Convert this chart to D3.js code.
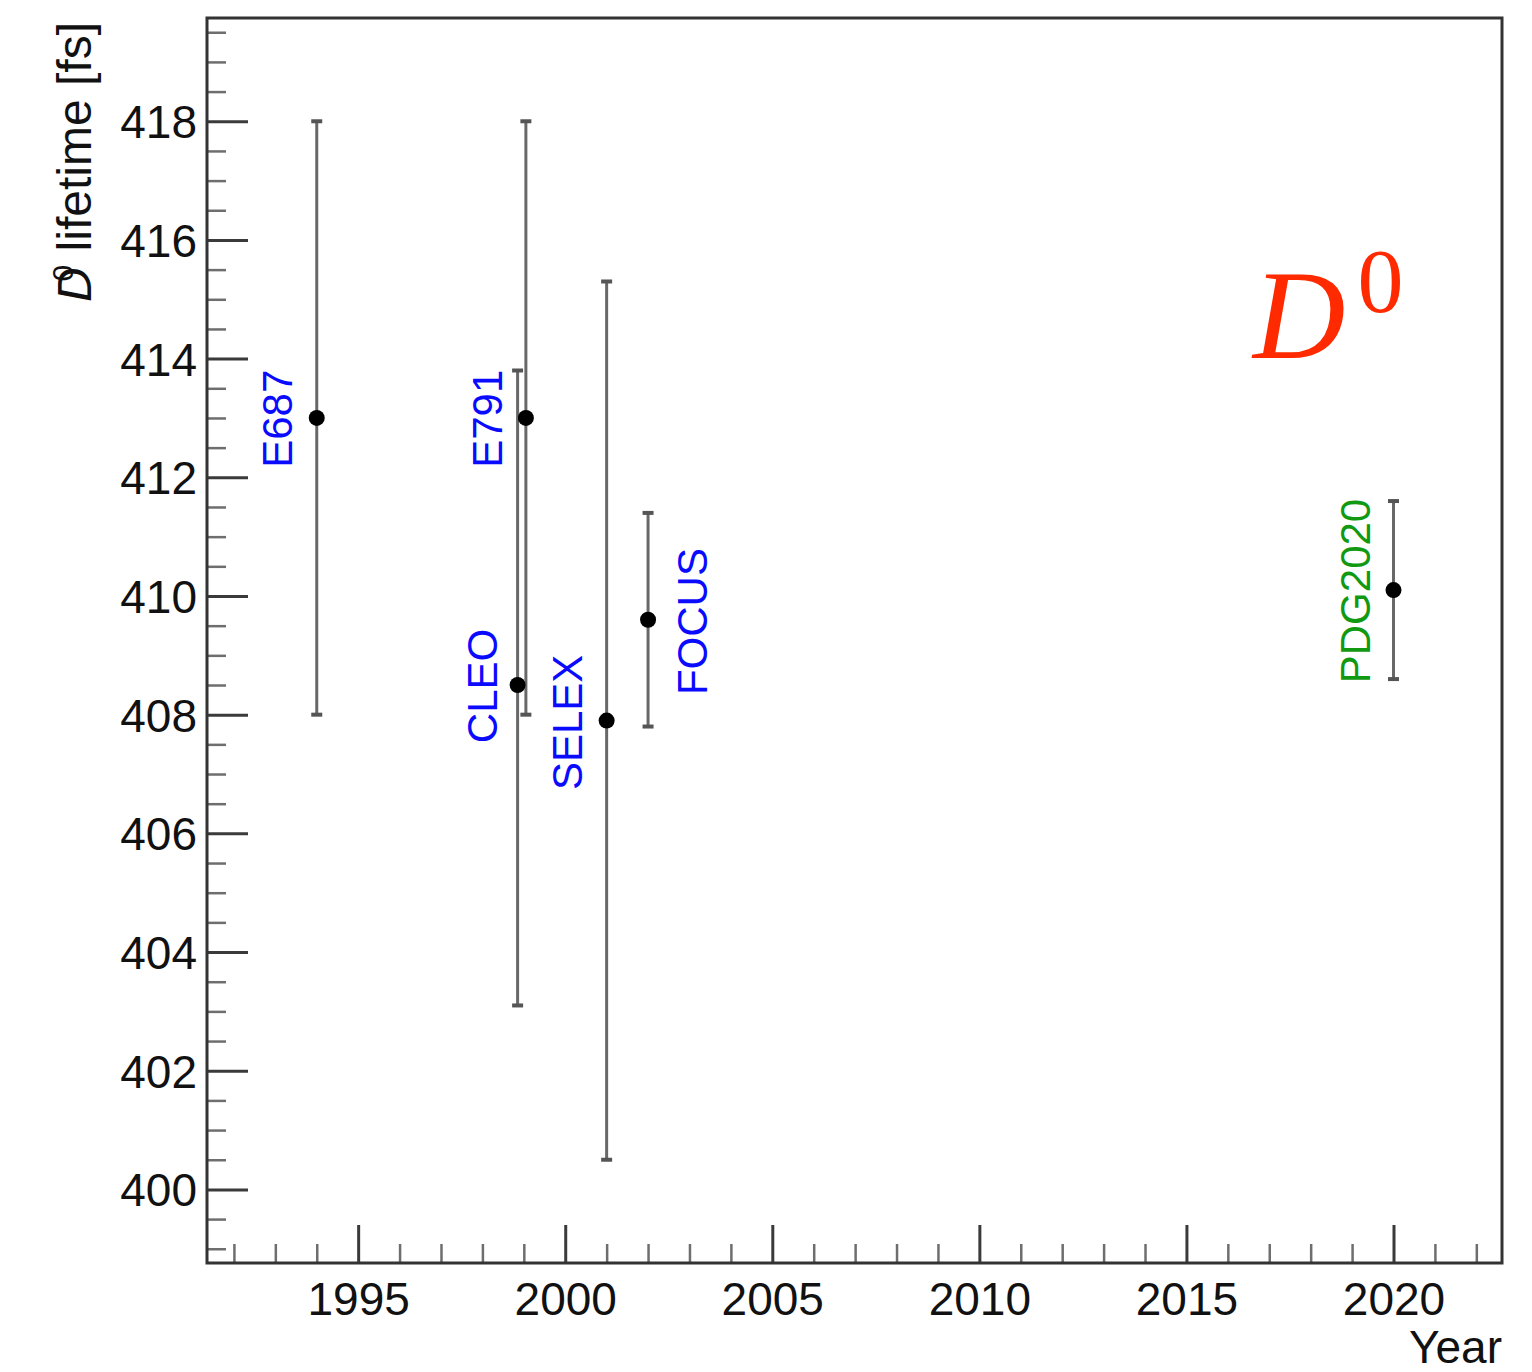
<!DOCTYPE html>
<html>
<head>
<meta charset="utf-8">
<script src="https://cdn.jsdelivr.net/npm/d3@7"></script>
<style>
  body { margin: 0; background: #fff; }
  svg { display: block; }
</style>
</head>
<body>
<svg></svg>
<script>
// measurements, D0 lifetime [fs]
let experiments = ['E687', 'CLEO', 'E791', 'SELEX', 'FOCUS', 'PDG2020']
let years       = [1994, 1998.85, 1999.05, 2001, 2002, 2020]
let lifetimes   = [413, 408.5, 413, 407.9, 409.6, 410.1]
let errUp       = [5, 5.3, 5, 7.4, 1.8, 1.5]
let errDown     = [5, 5.4, 5, 7.4, 1.8, 1.5]
// where each name sits, in data units (year, lifetime)
let labelYears  = [1993.4, 1998.35, 1998.47, 2000.4, 2003.42, 2019.43]
let labelValues = [412.16, 407.52, 412.16, 406.73, 408.33, 408.53]
let labelColors = ['#0a0aff', '#0a0aff', '#0a0aff', '#0a0aff', '#0a0aff', '#119911']

let yearTicks = [1995, 2000, 2005, 2010, 2015, 2020]
let lifeTicks = [400, 402, 404, 406, 408, 410, 412, 414, 416, 418]

let width = 1532
let height = 1372
let margin = {left: 207, top: 18, right: 30, bottom: 109}
let font = "'Liberation Sans', Arial, Helvetica, sans-serif"

let svg = d3.select('svg')
    .attr('width', width)
    .attr('height', height)

let xScale = d3.scaleLinear()
    .domain([1991.35, 2022.62])
    .range([margin.left, width - margin.right])

let yScale = d3.scaleLinear()
    .domain([398.76, 419.74])
    .range([height - margin.bottom, margin.top])

let minorYears = d3.range(1992, 2023, 1).filter(d => d % 5 !== 0)
let minorLife = d3.range(399, 419.75, 0.5).filter(d => d % 2 !== 0)

let data = experiments.map((name, i) => ({
    name: name,
    year: years[i],
    value: lifetimes[i],
    up: errUp[i],
    down: errDown[i],
    lx: labelYears[i],
    ly: labelValues[i],
    color: labelColors[i]
}))

let drawAxes = () => {
    let plotH = yScale.range()[0] - yScale.range()[1]

    // minor ticks
    svg.append('g')
       .attr('transform', 'translate(0,' + yScale.range()[0] + ')')
       .call(d3.axisBottom(xScale).tickValues(minorYears).tickSize(-19).tickFormat(''))
       .call(g => g.select('.domain').remove())
       .call(g => g.selectAll('line').attr('stroke', '#6e6e6e').attr('stroke-width', 2.5))

    svg.append('g')
       .attr('transform', 'translate(' + xScale.range()[0] + ',0)')
       .call(d3.axisLeft(yScale).tickValues(minorLife).tickSize(-19).tickFormat(''))
       .call(g => g.select('.domain').remove())
       .call(g => g.selectAll('line').attr('stroke', '#6e6e6e').attr('stroke-width', 2.5))

    // major ticks
    svg.append('g')
       .attr('id', 'x-axis')
       .attr('transform', 'translate(0,' + yScale.range()[0] + ')')
       .call(d3.axisBottom(xScale).tickValues(yearTicks).tickSize(-38).tickPadding(19).tickFormat(d3.format('d')))
       .call(g => g.select('.domain').remove())
       .call(g => g.selectAll('line').attr('stroke', '#3a3a3a').attr('stroke-width', 3))
       .call(g => g.selectAll('text').attr('font-size', 46).attr('font-family', font).attr('fill', '#111'))

    svg.append('g')
       .attr('id', 'y-axis')
       .attr('transform', 'translate(' + xScale.range()[0] + ',0)')
       .call(d3.axisLeft(yScale).tickValues(lifeTicks).tickSize(-41).tickPadding(10).tickFormat(d3.format('d')))
       .call(g => g.select('.domain').remove())
       .call(g => g.selectAll('line').attr('stroke', '#3a3a3a').attr('stroke-width', 3))
       .call(g => g.selectAll('text').attr('font-size', 46).attr('font-family', font).attr('fill', '#111').attr('dy', '0.36em'))

    // frame
    svg.append('rect')
       .attr('x', xScale.range()[0])
       .attr('y', yScale.range()[1])
       .attr('width', xScale.range()[1] - xScale.range()[0])
       .attr('height', plotH)
       .attr('fill', 'none')
       .attr('stroke', '#333')
       .attr('stroke-width', 3)

    svg.append('text')
       .text('Year')
       .attr('x', xScale.range()[1])
       .attr('y', 1363)
       .attr('text-anchor', 'end')
       .attr('font-size', 46)
       .attr('font-family', font)
       .attr('fill', '#111')

    let ytitle = svg.append('text')
       .attr('transform', 'translate(91,22) rotate(-90)')
       .attr('text-anchor', 'end')
       .attr('font-size', 48)
       .attr('font-family', font)
       .attr('fill', '#111')
    ytitle.append('tspan').attr('font-style', 'italic').text('D')
    ytitle.append('tspan').attr('font-size', 30).attr('dx', -14).attr('dy', -18).text('0')
    ytitle.append('tspan').attr('dy', 18).text(' lifetime [fs]')
}

let plot = () => {
    let g = svg.append('g')

    g.selectAll('line.bar')
     .data(data)
     .enter()
     .append('line')
     .attr('class', 'bar')
     .attr('x1', d => xScale(d.year))
     .attr('x2', d => xScale(d.year))
     .attr('y1', d => yScale(d.value + d.up))
     .attr('y2', d => yScale(d.value - d.down))
     .attr('stroke', '#686868')
     .attr('stroke-width', 3)

    let caps = data.flatMap(d => [{year: d.year, v: d.value + d.up}, {year: d.year, v: d.value - d.down}])
    g.selectAll('line.cap')
     .data(caps)
     .enter()
     .append('line')
     .attr('class', 'cap')
     .attr('x1', d => xScale(d.year) - 5.5)
     .attr('x2', d => xScale(d.year) + 5.5)
     .attr('y1', d => yScale(d.v))
     .attr('y2', d => yScale(d.v))
     .attr('stroke', '#555')
     .attr('stroke-width', 4)

    g.selectAll('circle')
     .data(data)
     .enter()
     .append('circle')
     .attr('cx', d => xScale(d.year))
     .attr('cy', d => yScale(d.value))
     .attr('r', 8)
     .attr('fill', '#000')

    g.selectAll('text.name')
     .data(data)
     .enter()
     .append('text')
     .attr('class', 'name')
     .text(d => d.name)
     .attr('transform', d => 'translate(' + xScale(d.lx) + ',' + yScale(d.ly) + ') rotate(-90)')
     .attr('font-size', 42)
     .attr('font-family', font)
     .attr('fill', d => d.color)

    // particle tag
    let tag = svg.append('text')
       .attr('x', 1253)
       .attr('y', 358)
       .attr('font-family', "'Liberation Serif', 'Times New Roman', serif")
       .attr('fill', '#ff2a00')
    tag.append('tspan').attr('font-size', 128).attr('font-style', 'italic').text('D')
    tag.append('tspan').attr('font-size', 92).attr('dx', 12).attr('dy', -46).text('0')
}

drawAxes()
plot()
</script>
</body>
</html>
